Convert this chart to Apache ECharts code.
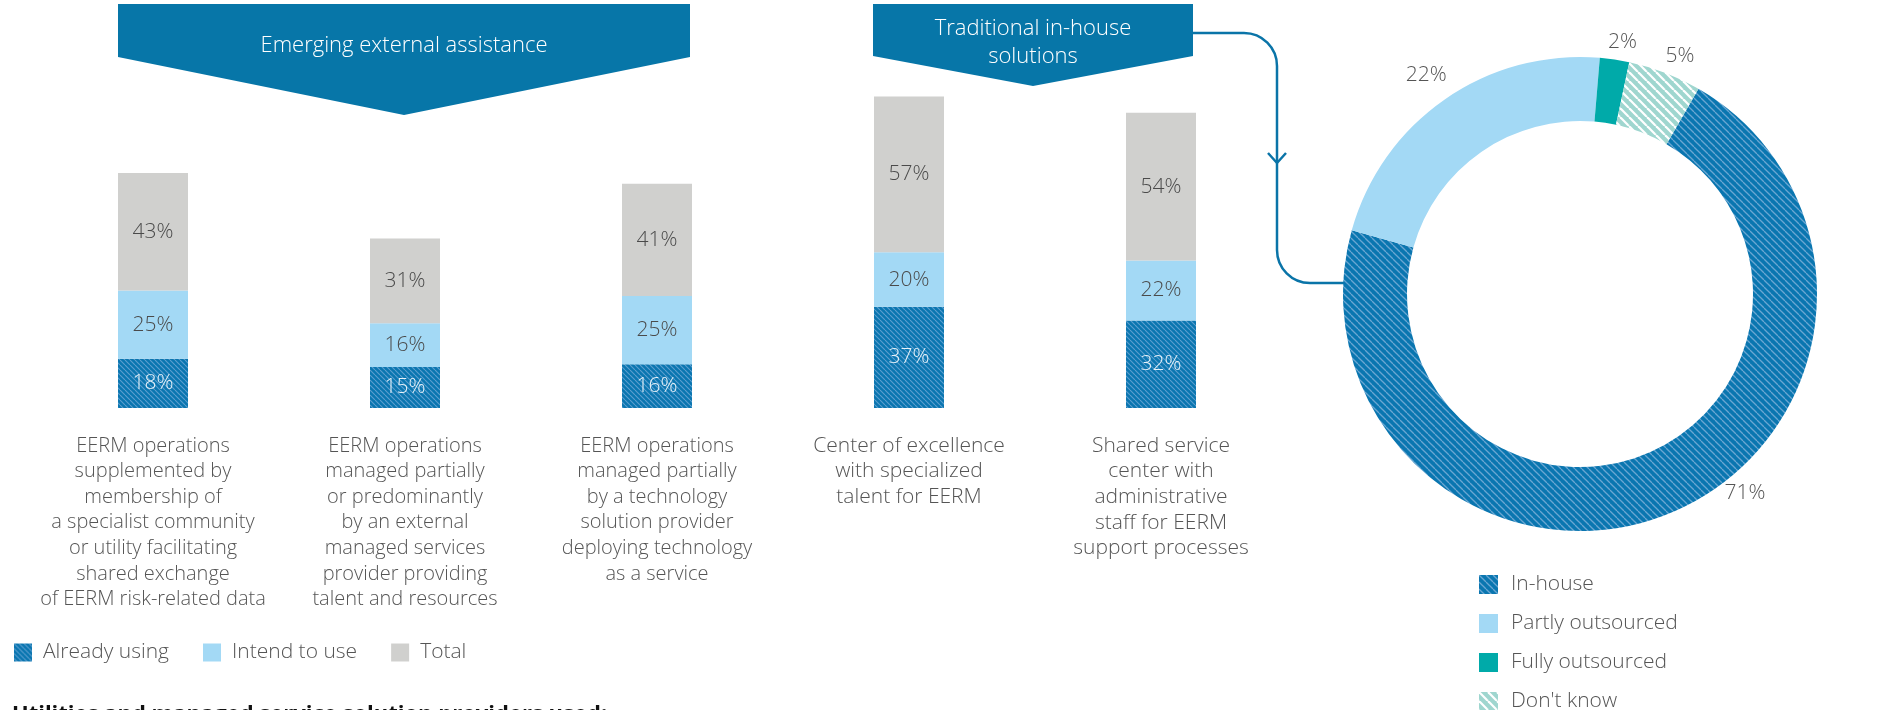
<!DOCTYPE html>
<html>
<head>
<meta charset="utf-8">
<script src="https://cdn.jsdelivr.net/npm/echarts@6/dist/echarts.min.js"></script>
<style>
  html, body { margin: 0; padding: 0; background: #fff; }
  #chart { width: 1893px; height: 710px; }
</style>
</head>
<body>
<div id="chart"></div>
<script>
var categories = [
  'EERM operations\nsupplemented by\nmembership of\na specialist community\nor utility facilitating\nshared exchange\nof EERM risk-related data',
  'EERM operations\nmanaged partially\nor predominantly\nby an external\nmanaged services\nprovider providing\ntalent and resources',
  'EERM operations\nmanaged partially\nby a technology\nsolution provider\ndeploying technology\nas a service',
  'Center of excellence\nwith specialized\ntalent for EERM',
  'Shared service\ncenter with\nadministrative\nstaff for EERM\nsupport processes'
];
var alreadyUsing = [18, 15, 16, 37, 32];
var intendToUse = [25, 16, 25, 20, 22];
var totals = [43, 31, 41, 57, 54];

var donutNames = ['In-house', 'Partly outsourced', 'Fully outsourced', "Don't know"];
var donutValues = [71, 22, 2, 5];

var DARK = '#0a76b0', LIGHT = '#a3d9f5', GREY = '#d0d0ce', TEAL = '#00aaa9', MINT = '#9fd6cf';
var FONT = '"Open Sans", sans-serif';
var TXT = '#555555';
var LINE = '#0a74a8';

// pie labels in the original are not all on the mid-angle; small nudges
var pieLabelNudge = [[44, -35], [16, -11], [-14, -2], [-27, -11]];

// diagonal "\" hatch as a repeating canvas pattern
function hatch(bg, fg, size, lw) {
  var c = document.createElement('canvas');
  c.width = size; c.height = size;
  var ctx = c.getContext('2d');
  ctx.fillStyle = bg;
  ctx.fillRect(0, 0, size, size);
  ctx.strokeStyle = fg;
  ctx.lineWidth = lw;
  [-size, 0, size].forEach(function (k) {
    ctx.beginPath();
    ctx.moveTo(k, 0);
    ctx.lineTo(k + size, size);
    ctx.stroke();
  });
  return { image: c, repeat: 'repeat' };
}

var barHatch = hatch(DARK, '#5d9fcf', 5, 1.1);
var ringHatch = hatch(DARK, '#6aa6d2', 7, 1.3);
var mintHatch = hatch(MINT, '#ffffff', 9, 2.2);

var chart = echarts.init(document.getElementById('chart'));

function segLabel(color) {
  return {
    show: true,
    position: 'inside',
    formatter: '{c}%',
    color: color,
    fontFamily: FONT,
    fontWeight: 300,
    fontSize: 21
  };
}

var lineStyle = { stroke: LINE, lineWidth: 2.5, fill: null };

var option = {
  animation: false,
  textStyle: { fontFamily: FONT },
  legend: [{
    data: ['Already using', 'Intend to use', 'Total'],
    left: 14, top: 642, padding: 0,
    itemWidth: 18, itemHeight: 18, itemGap: 34,
    icon: 'rect',
    selectedMode: false,
    textStyle: { fontSize: 21, color: TXT, fontWeight: 300, padding: [0, 0, 0, 6] }
  }, {
    data: donutNames,
    orient: 'vertical',
    left: 1479, top: 574, height: 170, padding: 0,
    itemWidth: 19, itemHeight: 19, itemGap: 18,
    icon: 'rect',
    selectedMode: false,
    textStyle: { fontSize: 21, lineHeight: 20, color: TXT, fontWeight: 300, padding: [0, 0, 0, 8] }
  }],
  grid: { left: 27, top: 80, width: 1260, height: 328 },
  xAxis: {
    type: 'category',
    data: categories,
    axisLine: { show: false },
    axisTick: { show: false },
    axisLabel: {
      interval: 0,
      margin: 25,
      color: TXT,
      align: 'center',
      formatter: function (v, i) {
        return (i < 3 ? '{a|' : '{b|') + v + '}';
      },
      rich: {
        a: { fontSize: 20, lineHeight: 25.6, fontWeight: 300, color: TXT },
        b: { fontSize: 21, lineHeight: 25.6, fontWeight: 300, color: TXT }
      }
    }
  },
  yAxis: {
    type: 'value',
    min: 0, max: 120,
    show: false,
    splitLine: { show: false }
  },
  series: [{
    name: 'Already using',
    type: 'bar', stack: 'a', barWidth: 70,
    data: alreadyUsing,
    itemStyle: { color: barHatch },
    label: segLabel('#e8f2f9')
  }, {
    name: 'Intend to use',
    type: 'bar', stack: 'a', barWidth: 70,
    data: intendToUse,
    itemStyle: { color: LIGHT },
    label: segLabel('#4a4a4a')
  }, {
    name: 'Total',
    type: 'bar', stack: 'a', barWidth: 70,
    data: totals,
    itemStyle: { color: GREY },
    label: segLabel('#4a4a4a')
  }, {
    name: 'Outsourcing',
    type: 'pie',
    center: [1580, 294],
    radius: [173, 237],
    startAngle: 60,
    clockwise: true,
    silent: true,
    data: donutNames.map(function (n, i) {
      return {
        name: n,
        value: donutValues[i],
        itemStyle: { color: [ringHatch, LIGHT, TEAL, mintHatch][i] }
      };
    }),
    label: {
      show: true,
      position: 'outside',
      formatter: '{c}%',
      color: '#555555',
      fontSize: 21,
      fontWeight: 300
    },
    labelLine: { show: false, length: 16, length2: 0 },
    labelLayout: function (params) {
      var n = pieLabelNudge[params.dataIndex];
      return { dx: n[0], dy: n[1] };
    }
  }],
  graphic: [{
    type: 'polygon',
    shape: { points: [[118, 4], [690, 4], [690, 57], [404, 115], [118, 57]] },
    style: { fill: '#0776a8' }
  }, {
    type: 'text',
    x: 404, y: 46,
    style: { text: 'Emerging external assistance', fill: '#fff', fontSize: 22, fontFamily: FONT, fontWeight: 300, align: 'center', verticalAlign: 'middle' }
  }, {
    type: 'polygon',
    shape: { points: [[873, 4], [1193, 4], [1193, 56], [1033, 86], [873, 56]] },
    style: { fill: '#0776a8' }
  }, {
    type: 'text',
    x: 1033, y: 43,
    style: { text: 'Traditional in-house\nsolutions', fill: '#fff', fontSize: 22, lineHeight: 28, fontFamily: FONT, fontWeight: 300, align: 'center', verticalAlign: 'middle' }
  },
  // connector from the in-house banner to the donut
  { type: 'line', shape: { x1: 1193, y1: 33, x2: 1244, y2: 33 }, style: lineStyle },
  { type: 'arc', shape: { cx: 1244, cy: 66, r: 33, startAngle: -Math.PI / 2, endAngle: 0, clockwise: true }, style: lineStyle },
  { type: 'line', shape: { x1: 1277, y1: 66, x2: 1277, y2: 250 }, style: lineStyle },
  { type: 'arc', shape: { cx: 1310, cy: 250, r: 33, startAngle: Math.PI / 2, endAngle: Math.PI, clockwise: true }, style: lineStyle },
  { type: 'line', shape: { x1: 1310, y1: 283, x2: 1344, y2: 283 }, style: lineStyle },
  { type: 'polyline', shape: { points: [[1268, 153], [1277, 163], [1286, 153]] }, style: lineStyle },
  {
    type: 'text',
    x: 12, y: 704,
    style: { text: 'Utilities and managed service solution providers used:', fill: '#111', fontSize: 22, fontWeight: 'bold', fontFamily: FONT }
  }]
};
chart.setOption(option);
</script>
</body>
</html>
